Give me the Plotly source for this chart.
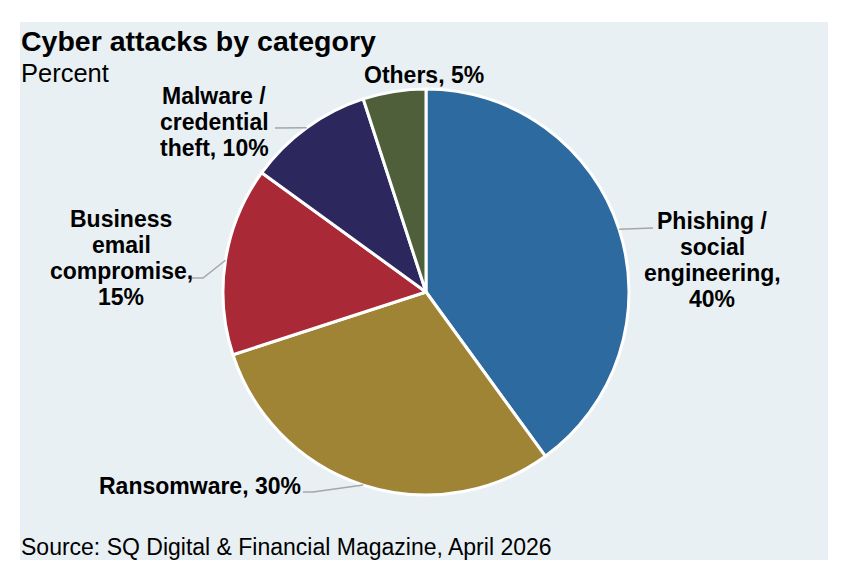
import math
import plotly.graph_objects as go

categories = ["Phishing / social engineering", "Ransomware", "Business email compromise",
              "Malware / credential theft", "Others"]
shares = [40, 30, 15, 10, 5]
colors = ["#2D6A9F", "#A08436", "#A92A36", "#2C285D", "#4F5F3A"]

# how each label is wrapped on the chart ({v} = share)
wrapped = [
    "Phishing /<br>social<br>engineering,<br>{v}%",
    "Ransomware, {v}%",
    "Business<br>email<br>compromise,<br>{v}%",
    "Malware /<br>credential<br>theft, {v}%",
    "Others, {v}%",
]

W, H = 846, 582
OFF = 8  # the page puts the plot 8px in from the top-left corner
CX, CY, R = 426, 292, 203
FONT = "Liberation Sans, Arial, sans-serif"
LABEL_FS = 23
LINE_STEP = 26
MID = 0.30  # baseline -> box centre, in em

# label placement in pixels: text centre x, first baseline y, leader points after the pie edge
label_pos = [
    dict(x=712, y=228, leader=[(653, 228)]),
    dict(x=200, y=493, leader=[(313, 492), (303, 492)]),
    dict(x=121, y=226, leader=[(203, 278), (192, 278)]),
    dict(x=214, y=103, leader=[(275, 128)]),
    dict(x=424, y=82, leader=None),
]


def px(x):
    return (x - OFF) / W


def py(y):
    return 1 - (y - OFF) / H


fig = go.Figure(go.Pie(
    labels=categories,
    values=shares,
    sort=False,
    direction="clockwise",
    rotation=0,
    textinfo="none",
    hoverinfo="label+percent",
    marker=dict(colors=colors, line=dict(color="white", width=3)),
    domain=dict(x=[px(CX - R), px(CX + R)], y=[py(CY + R), py(CY - R)]),
    showlegend=False,
))

shapes = [dict(type="rect", xref="paper", yref="paper", x0=px(20), x1=px(828),
               y0=py(560), y1=py(22), fillcolor="#E9F0F4", line=dict(width=0),
               layer="below")]
annotations = []

total = sum(shares)
start = 0.0
for i, v in enumerate(shares):
    mid = (start + v / 2) / total * 2 * math.pi
    start += v
    pos = label_pos[i]
    # leader line from the slice mid-angle on the rim
    if pos["leader"]:
        pts = [(CX + R * math.sin(mid), CY - R * math.cos(mid))] + pos["leader"]
        path = "M " + " L ".join(f"{px(a)},{py(b)}" for a, b in pts)
        shapes.append(dict(type="path", xref="paper", yref="paper", path=path,
                           line=dict(color="#A6A6A6", width=1.5)))
    lines = wrapped[i].format(v=v).split("<br>")
    for k, line in enumerate(lines):
        base = pos["y"] + k * LINE_STEP
        annotations.append(dict(
            text=f"<b>{line}</b>", xref="paper", yref="paper",
            x=px(pos["x"]), y=py(base - MID * LABEL_FS),
            xanchor="center", yanchor="middle", showarrow=False,
            font=dict(family=FONT, size=LABEL_FS, color="black"),
        ))

annotations += [
    dict(text="<b>Cyber attacks by category</b>", xref="paper", yref="paper",
         x=px(19), y=py(50 - MID * 28.5), xanchor="left", yanchor="middle",
         showarrow=False, font=dict(family=FONT, size=28.5, color="black")),
    dict(text="Percent", xref="paper", yref="paper",
         x=px(19), y=py(81 - MID * 25.5), xanchor="left", yanchor="middle",
         showarrow=False, font=dict(family=FONT, size=25.5, color="black")),
    dict(text="Source: SQ Digital & Financial Magazine, April 2026", xref="paper", yref="paper",
         x=px(19), y=py(554 - MID * 23), xanchor="left", yanchor="middle",
         showarrow=False, font=dict(family=FONT, size=23, color="black")),
]

fig.update_layout(
    width=W, height=H,
    margin=dict(l=0, r=0, t=0, b=0),
    paper_bgcolor="white",
    shapes=shapes,
    annotations=annotations,
)

fig.write_html("out.html")
